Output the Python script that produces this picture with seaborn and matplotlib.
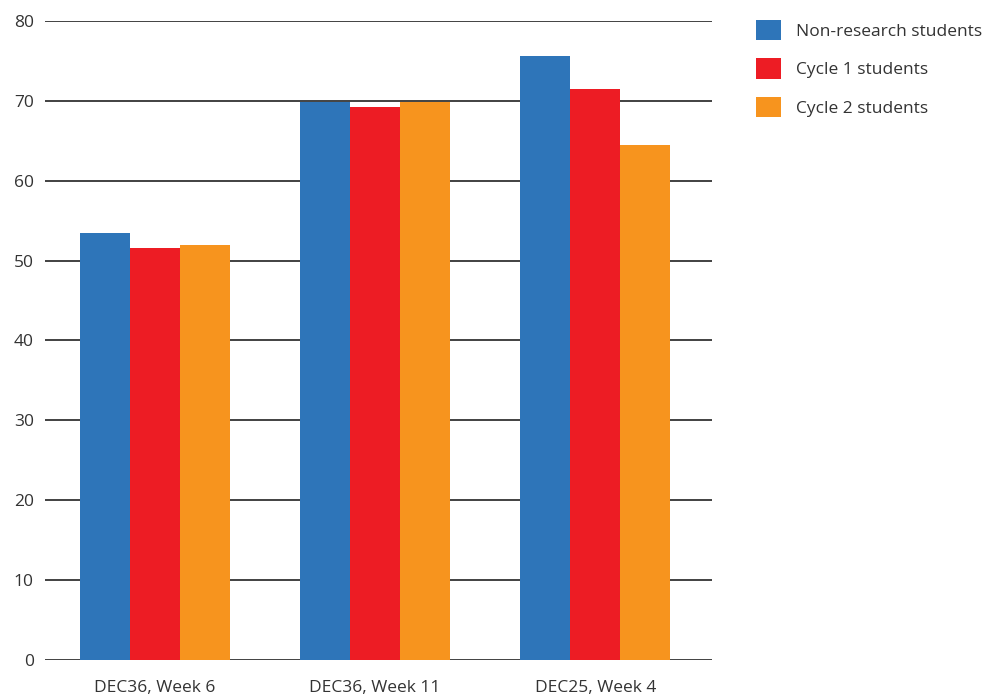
import pandas as pd
import matplotlib.pyplot as plt
import seaborn as sns

categories = ['DEC36, Week 6', 'DEC36, Week 11', 'DEC25, Week 4']
groups = ['Non-research students', 'Cycle 1 students', 'Cycle 2 students']
non_research = [53.4, 69.9, 75.6]
cycle1 = [51.6, 69.2, 71.5]
cycle2 = [52.0, 69.9, 64.5]
colors = ['#2E75B9', '#ED1C24', '#F7941E']

rows = []
for g, vals in zip(groups, [non_research, cycle1, cycle2]):
    for c, v in zip(categories, vals):
        rows.append({'category': c, 'group': g, 'value': v})
data = pd.DataFrame(rows)

sns.set_style('white')
plt.rcParams['font.family'] = ['Open Sans', 'DejaVu Sans']

fig = plt.figure(figsize=(9.85, 6.97), dpi=100)
ax = fig.add_axes([0.0457, 0.053, 0.677, 0.917])

sns.barplot(data=data, x='category', y='value', hue='group', order=categories,
            hue_order=groups, palette=colors, width=0.68, saturation=1,
            edgecolor='none', linewidth=0, ax=ax)

ax.set_ylim(0, 80)
ax.set_xlim(-0.5, 2.53)
ax.set_yticks(range(0, 81, 10))
ax.yaxis.grid(True, color='#333333', linewidth=1.3)
ax.set_axisbelow(True)
for s in ax.spines.values():
    s.set_visible(False)
ax.set_xlabel('')
ax.set_ylabel('')
ax.tick_params(axis='y', length=0, pad=8, labelsize=12.5, labelcolor='#333333')
ax.tick_params(axis='x', length=0, pad=14, labelsize=12.5, labelcolor='#333333')

handles, labels = ax.get_legend_handles_labels()
ax.get_legend().remove()
fig.legend(handles, labels, loc='upper left', bbox_to_anchor=(0.768, 0.972),
           frameon=False, fontsize=12.5, handlelength=1.44, handleheight=1.44,
           handletextpad=0.85, labelspacing=1.05, borderpad=0, borderaxespad=0,
           labelcolor='#333333')

fig.savefig('out.png', dpi=100)
